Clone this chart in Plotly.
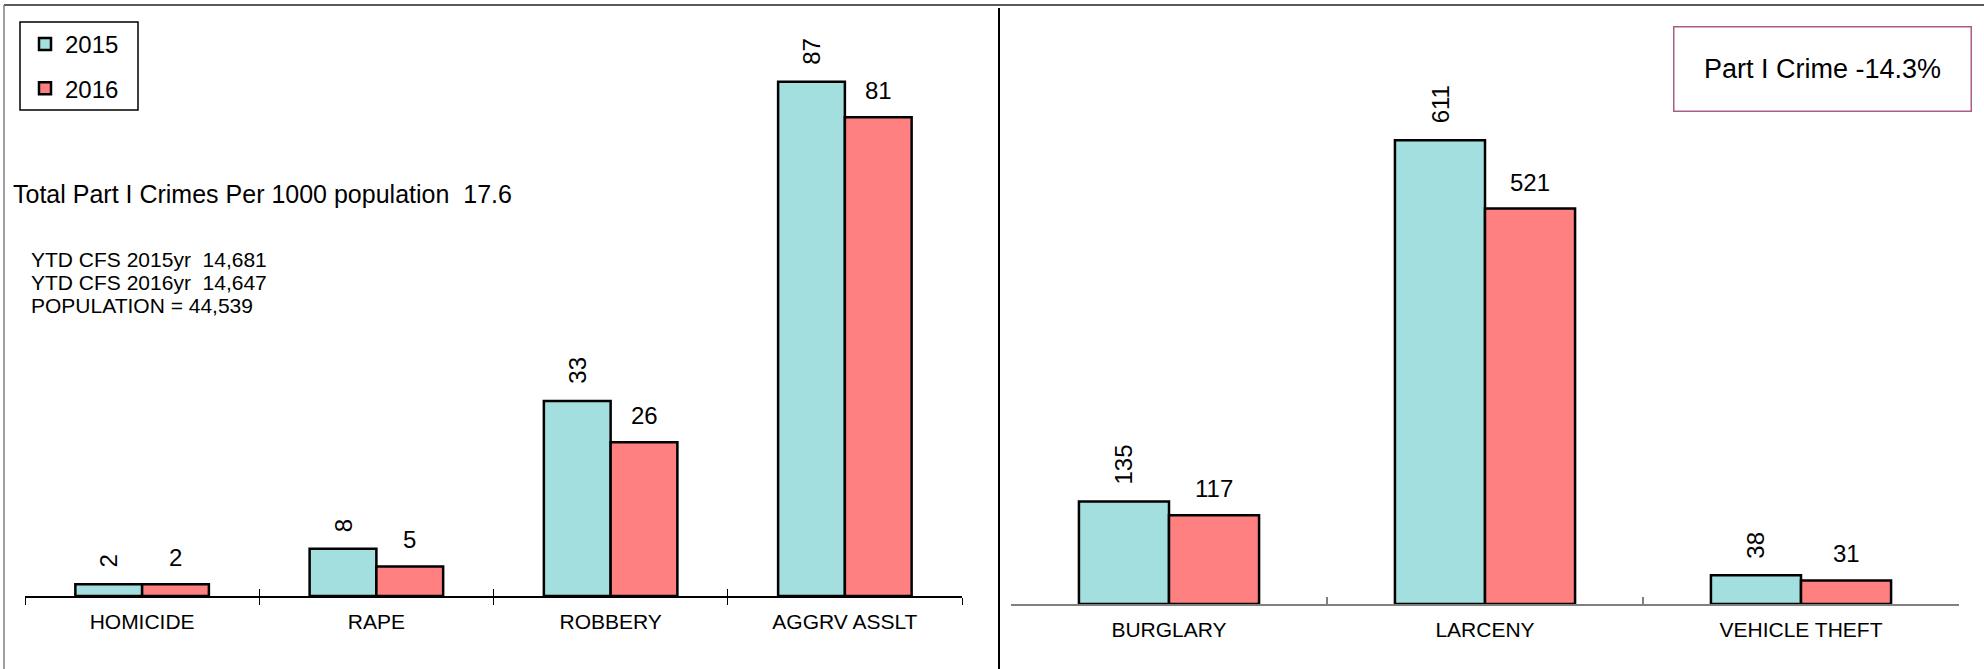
import plotly.graph_objects as go

# ---------------- data ----------------
left_categories = ["HOMICIDE", "RAPE", "ROBBERY", "AGGRV ASSLT"]
left_2015 = [2, 8, 33, 87]
left_2016 = [2, 5, 26, 81]

right_categories = ["BURGLARY", "LARCENY", "VEHICLE THEFT"]
right_2015 = [135, 611, 38]
right_2016 = [117, 521, 31]

series_names = ["2015", "2016"]
rate_text = "Total Part I Crimes Per 1000 population\u00a0\u00a017.6"
info_lines = ["YTD CFS 2015yr\u00a0\u00a014,681", "YTD CFS 2016yr\u00a0\u00a014,647", "POPULATION = 44,539"]
change_text = "Part I Crime -14.3%"

# ---------------- style ----------------
W, H = 1984, 669
C15 = "#A3DFDF"
C16 = "#FF8080"
FONT = "Arial, 'Liberation Sans', sans-serif"
BARGAP = 0.43

L_X0, L_X1 = 25, 962        # left plot horizontal extent (px)
L_BASE, L_TOP = 596, 5      # left plot vertical extent (px from top)
R_X0, R_X1 = 1011, 1959
R_BASE, R_TOP = 604, 6
L_YMAX = 100
R_YMAX = 788


def px_x(p):
    return p / W


def px_y(p):
    return 1 - p / H


bar_line = dict(color="black", width=2.5)

fig = go.Figure()
fig.add_trace(go.Bar(x=left_categories, y=left_2015, name=series_names[0],
                     marker=dict(color=C15, line=bar_line), xaxis="x", yaxis="y",
                     legendgroup="g15", hoverinfo="skip"))
fig.add_trace(go.Bar(x=left_categories, y=left_2016, name=series_names[1],
                     marker=dict(color=C16, line=bar_line), xaxis="x", yaxis="y",
                     legendgroup="g16", hoverinfo="skip"))
fig.add_trace(go.Bar(x=right_categories, y=right_2015, name=series_names[0],
                     marker=dict(color=C15, line=bar_line), xaxis="x2", yaxis="y2",
                     legendgroup="g15", showlegend=False, hoverinfo="skip"))
fig.add_trace(go.Bar(x=right_categories, y=right_2016, name=series_names[1],
                     marker=dict(color=C16, line=bar_line), xaxis="x2", yaxis="y2",
                     legendgroup="g16", showlegend=False, hoverinfo="skip"))
# helper trace for the crossing ticks on the left axis
fig.add_trace(go.Scatter(x=left_categories, y=left_2015, mode="none", xaxis="x3", yaxis="y",
                         showlegend=False, hoverinfo="skip"))

# value labels
annotations = []
l_cat_px = (L_X1 - L_X0) / len(left_categories)
r_cat_px = (R_X1 - R_X0) / len(right_categories)
l_off = (1 - BARGAP) / 4 * l_cat_px
r_off = (1 - BARGAP) / 4 * r_cat_px
for cats, v15, v16, xr, yr, off in [
        (left_categories, left_2015, left_2016, "x", "y", l_off),
        (right_categories, right_2015, right_2016, "x2", "y2", r_off)]:
    for c, a, b in zip(cats, v15, v16):
        annotations.append(dict(x=c, y=a, xref=xr, yref=yr, text=str(a), textangle=-90,
                                xshift=-off, yshift=15, xanchor="center", yanchor="bottom",
                                showarrow=False, font=dict(size=24, color="black", family=FONT)))
        annotations.append(dict(x=c, y=b, xref=xr, yref=yr, text=str(b), textangle=0,
                                xshift=off, yshift=11, xanchor="center", yanchor="bottom",
                                showarrow=False, font=dict(size=24, color="black", family=FONT)))

annotations.append(dict(x=px_x(11), y=px_y(194), xref="paper", yref="paper", text=rate_text,
                        xanchor="left", yanchor="middle", showarrow=False,
                        font=dict(size=25, color="black", family=FONT)))
for line, yy in zip(info_lines, [259, 282, 305]):
    annotations.append(dict(x=px_x(29), y=px_y(yy), xref="paper", yref="paper", text=line,
                            xanchor="left", yanchor="middle", showarrow=False,
                            font=dict(size=21, color="black", family=FONT)))
annotations.append(dict(x=px_x(1822), y=px_y(68.5), xref="paper", yref="paper", text=change_text,
                        xanchor="center", yanchor="middle", showarrow=False,
                        width=296, height=83, borderpad=0, bordercolor="#A85C86", borderwidth=1.5,
                        bgcolor="white", font=dict(size=27, color="black", family=FONT)))

shapes = [
    dict(type="line", xref="paper", yref="paper", x0=px_x(4), x1=1, y0=px_y(5), y1=px_y(5),
         line=dict(color="#5A5A5A", width=2)),
    dict(type="line", xref="paper", yref="paper", x0=px_x(4), x1=px_x(4), y0=0, y1=px_y(5),
         line=dict(color="#808080", width=1.5)),
    dict(type="line", xref="paper", yref="paper", x0=px_x(999), x1=px_x(999), y0=0, y1=px_y(8),
         line=dict(color="black", width=2)),
    # legend frame
    dict(type="rect", xref="paper", yref="paper", x0=px_x(20), x1=px_x(138),
         y0=px_y(110), y1=px_y(22), line=dict(color="black", width=1.5),
         fillcolor="white", layer="below"),
]

fig.update_layout(
    width=W, height=H, autosize=False,
    margin=dict(l=0, r=0, t=0, b=0),
    paper_bgcolor="white", plot_bgcolor="rgba(0,0,0,0)",
    barmode="group", bargap=BARGAP, bargroupgap=0,
    font=dict(family=FONT, color="black"),
    showlegend=True,
    legend=dict(x=px_x(25), y=px_y(22), xanchor="left", yanchor="top",
                borderwidth=0, bgcolor="rgba(0,0,0,0)",
                font=dict(size=24, color="black", family=FONT), tracegroupgap=10),
    xaxis=dict(domain=[px_x(L_X0), px_x(L_X1)], anchor="y", type="category",
               range=[-0.5, len(left_categories) - 0.5],
               showline=True, linecolor="black", linewidth=1.5,
               ticks="outside", ticklen=7, tickwidth=1, tickcolor="black", tickson="boundaries",
               ticklabelstandoff=6,
               tickfont=dict(size=21, color="black", family=FONT),
               showgrid=False, zeroline=False, fixedrange=True),
    xaxis3=dict(overlaying="x", anchor="y", type="category",
                range=[-0.5, len(left_categories) - 0.5],
                showline=False, ticks="inside", ticklen=7, tickwidth=1, tickcolor="black",
                tickson="boundaries", showticklabels=False, showgrid=False, zeroline=False),
    yaxis=dict(domain=[px_y(L_BASE), px_y(L_TOP)], range=[0, L_YMAX], visible=False,
               showgrid=False, zeroline=False),
    xaxis2=dict(domain=[px_x(R_X0), px_x(R_X1)], anchor="y2", type="category",
                range=[-0.5, len(right_categories) - 0.5],
                showline=True, linecolor="#808080", linewidth=1.5,
                ticks="inside", ticklen=7, tickwidth=1.5, tickcolor="#808080", tickson="boundaries",
                ticklabelstandoff=6,
                tickfont=dict(size=21, color="black", family=FONT),
                showgrid=False, zeroline=False),
    yaxis2=dict(domain=[px_y(R_BASE), px_y(R_TOP)], range=[0, R_YMAX], visible=False,
                showgrid=False, zeroline=False),
    annotations=annotations,
    shapes=shapes,
)

fig.write_html("out.html", config={"displayModeBar": False, "staticPlot": True},
               post_script="document.body.style.margin='0';document.body.style.overflow='hidden';")
